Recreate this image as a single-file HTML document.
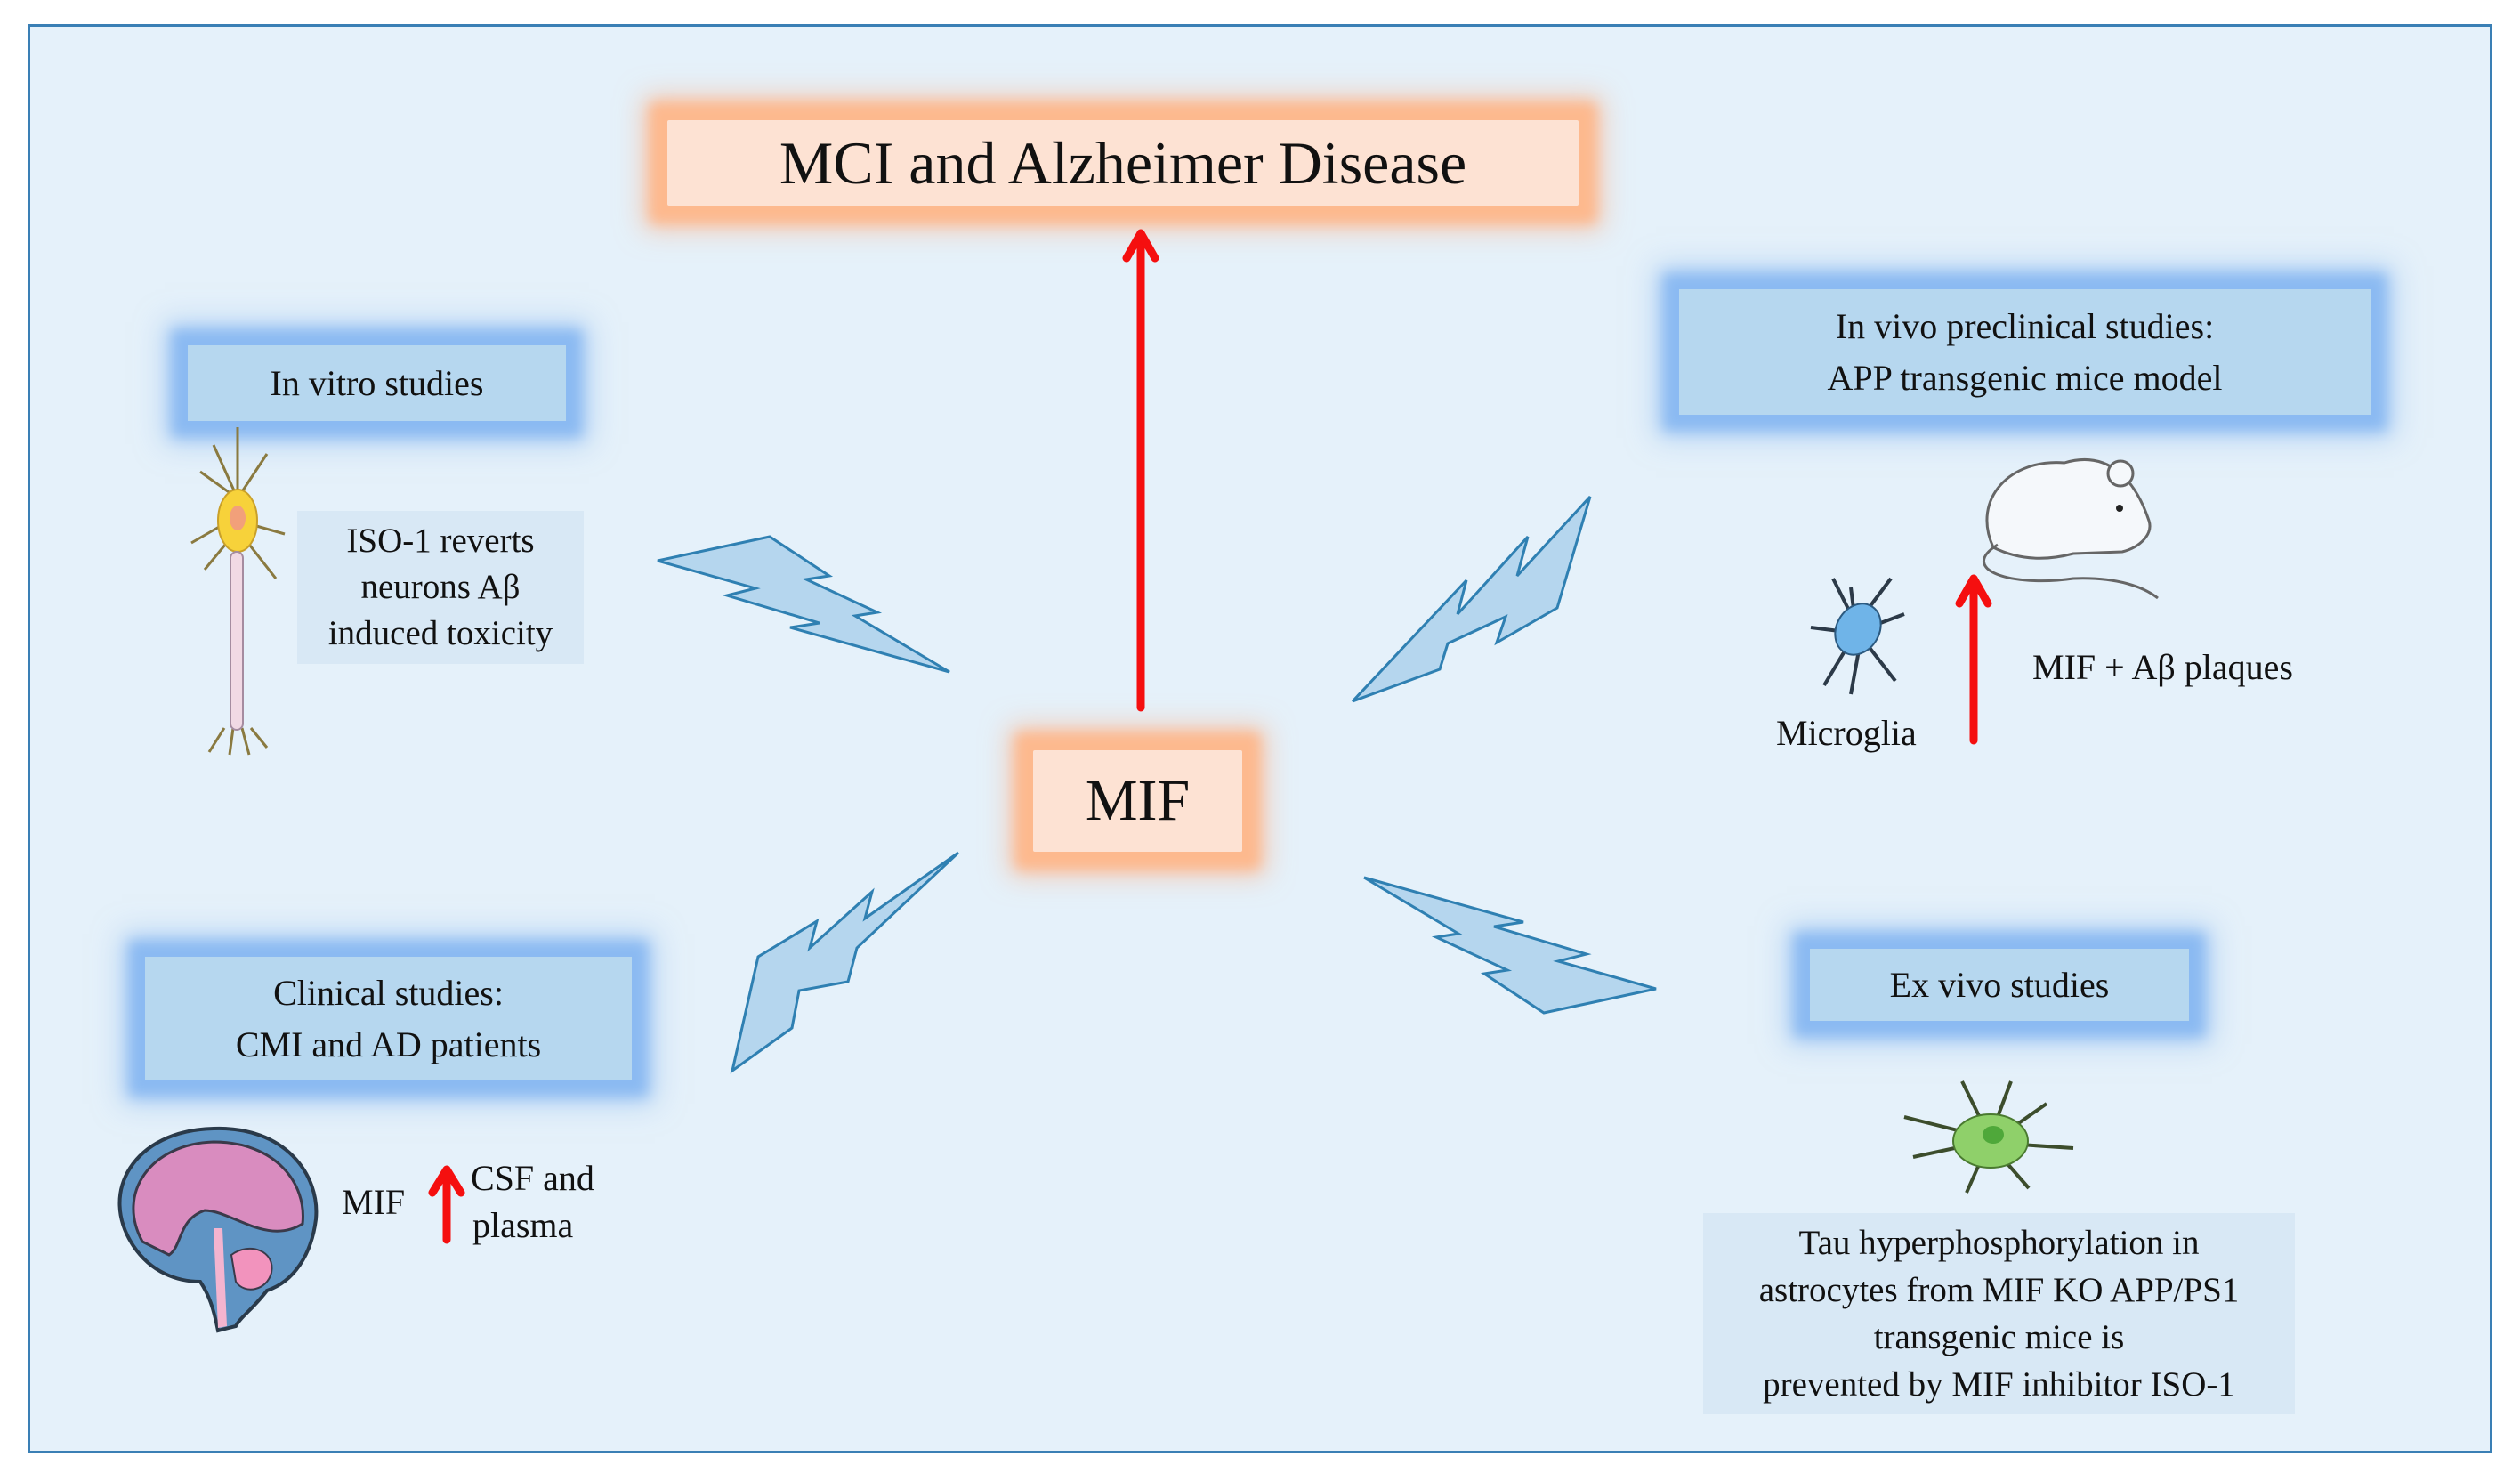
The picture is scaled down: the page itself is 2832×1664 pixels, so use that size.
<!DOCTYPE html>
<html><head><meta charset="utf-8"><style>
html,body{margin:0;padding:0;}
body{width:2832px;height:1664px;position:relative;background:#fff;overflow:hidden;font-family:"Liberation Serif",serif;color:#111;}
.frame{position:absolute;left:31px;top:27px;width:2764px;height:1600px;border:3px solid #3a7fb5;background:#e5f1fa;}
.box{position:absolute;display:flex;align-items:center;justify-content:center;text-align:center;}
.og{background:#fde2d3;box-shadow:0 0 14px 20px #fdb98e,0 0 30px 28px rgba(253,180,140,.6);border-radius:2px;}
.bg{background:#b6d7ef;box-shadow:0 0 14px 18px #8bbaf2,0 0 30px 26px rgba(130,180,240,.5);}
.pl{background:#d8e8f5;}
.t{position:absolute;white-space:nowrap;font-size:40px;}
</style></head><body>
<div class="frame"></div>

<div class="box og" style="left:750px;top:135px;width:1024px;height:96px;font-size:68px;">MCI and Alzheimer Disease</div>
<div class="box og" style="left:1161px;top:843px;width:235px;height:114px;font-size:66px;">MIF</div>
<div class="box bg" style="left:211px;top:388px;width:425px;height:85px;font-size:40px;">In vitro studies</div>
<div class="box pl" style="left:334px;top:574px;width:322px;height:172px;font-size:39px;line-height:52px;">ISO-1 reverts<br>neurons Aβ<br>induced toxicity</div>
<div class="box bg" style="left:1887px;top:325px;width:777px;height:141px;font-size:40px;line-height:58px;">In vivo preclinical studies:<br>APP transgenic mice model</div>
<div class="box bg" style="left:2034px;top:1066px;width:426px;height:81px;font-size:40px;">Ex vivo studies</div>
<div class="box pl" style="left:1914px;top:1363px;width:665px;height:226px;font-size:39px;line-height:53px;">Tau hyperphosphorylation in<br>astrocytes from MIF KO APP/PS1<br>transgenic mice is<br>prevented by MIF inhibitor ISO-1</div>
<div class="box bg" style="left:163px;top:1075px;width:547px;height:139px;font-size:40px;line-height:58px;">Clinical studies:<br>CMI and AD patients</div>

<div class="t" style="left:1996px;top:800px;">Microglia</div>
<div class="t" style="left:2284px;top:726px;">MIF + Aβ plaques</div>
<div class="t" style="left:384px;top:1327px;">MIF</div>
<div class="t" style="left:529px;top:1300px;">CSF and</div>
<div class="t" style="left:531px;top:1353px;">plasma</div>

<svg width="2832" height="1664" style="position:absolute;left:0;top:0" xmlns="http://www.w3.org/2000/svg">
<g fill="#b5d6ee" stroke="#2f80b2" stroke-width="3" stroke-linejoin="miter">
<polygon points="739,630 865,603 932,647 906,651 986,688 961,692 1067,755 888,705 921,700 817,669 849,661"/>
<polygon points="1520,788 1648,652 1638,690 1717,603 1705,647 1787,558 1750,683 1682,722 1692,693 1627,723 1618,752"/>
<polygon points="823,1203 852,1075 918,1035 910,1065 980,1002 972,1032 1077,958 963,1065 953,1103 898,1113 890,1155"/>
<polygon transform="translate(1697,1049) rotate(180) translate(-903,-692)" points="739,630 865,603 932,647 906,651 986,688 961,692 1067,755 888,705 921,700 817,669 849,661"/>
</g>
<g stroke="#f50f0f" stroke-width="9" fill="none" stroke-linecap="round" stroke-linejoin="round">
<line x1="1282" y1="795" x2="1282" y2="265"/><polyline points="1266,290 1282,262 1298,290"/>
<line x1="2218" y1="832" x2="2218" y2="652"/><polyline points="2202,678 2218,650 2234,678"/>
<line x1="502" y1="1393" x2="502" y2="1318"/><polyline points="486,1340 502,1314 518,1340"/>
</g>
<!-- neuron -->
<g stroke="#8a7a40" stroke-width="3" fill="none">
<line x1="267" y1="480" x2="267" y2="560"/><path d="M267 560 L225 530 M267 560 L240 500 M267 560 L300 510 M267 580 L215 610 M267 585 L320 600 M267 595 L230 640 M267 595 L310 650"/>
<path d="M252 818 L235 845 M262 818 L258 848 M272 818 L280 848 M282 818 L300 840"/>
</g>
<ellipse cx="267" cy="585" rx="22" ry="35" fill="#f7d23a" stroke="#c9a02a" stroke-width="2"/>
<ellipse cx="267" cy="582" rx="9" ry="14" fill="#f2a07a"/>
<rect x="259" y="620" width="14" height="200" rx="7" fill="#f1d9e4" stroke="#a58ca0" stroke-width="2"/>
<!-- mouse -->
<g stroke="#666" stroke-width="3" fill="#f5f8fb">
<path d="M2240 615 C2215 560 2260 515 2320 520 C2370 505 2400 540 2415 585 C2420 600 2405 615 2385 620 L2330 622 C2300 630 2270 630 2240 615 Z"/>
<path d="M2245 612 C2200 640 2260 660 2330 650 C2380 648 2410 660 2425 672" fill="none"/>
<circle cx="2383" cy="532" r="14"/>
</g>
<circle cx="2382" cy="571" r="4" fill="#222"/>
<!-- microglia -->
<g stroke="#2c3a48" stroke-width="4" fill="none">
<path d="M2085 700 L2060 650 M2085 700 L2080 660 M2095 690 L2125 650 M2100 705 L2140 690 M2095 720 L2130 765 M2080 720 L2050 770 M2075 710 L2035 705 M2090 725 L2080 780"/>
</g>
<ellipse cx="2088" cy="707" rx="24" ry="30" fill="#6fb4e8" stroke="#2c5a80" stroke-width="2" transform="rotate(30 2088 707)"/>
<!-- astrocyte -->
<g stroke="#3c4d2c" stroke-width="4" fill="none">
<path d="M2232 1270 L2205 1215 M2240 1268 L2260 1215 M2250 1275 L2300 1240 M2255 1285 L2330 1290 M2245 1295 L2280 1335 M2230 1295 L2210 1340 M2220 1285 L2150 1300 M2220 1275 L2140 1255"/>
</g>
<ellipse cx="2237" cy="1282" rx="42" ry="30" fill="#8fd06a" stroke="#4a7a30" stroke-width="2"/>
<ellipse cx="2240" cy="1275" rx="12" ry="10" fill="#4fa83a"/>
<!-- brain -->
<path d="M150 1400 C110 1340 150 1270 240 1268 C320 1265 360 1320 355 1370 C350 1410 330 1440 300 1450 C285 1470 270 1480 265 1490 L245 1495 C240 1470 235 1455 225 1440 C200 1440 170 1430 150 1400 Z" fill="#5f94c4" stroke="#2a3a4a" stroke-width="4"/>
<path d="M160 1395 C130 1340 170 1285 240 1283 C310 1283 345 1330 340 1375 C300 1400 260 1360 230 1360 C200 1370 205 1400 190 1410 Z" fill="#d98cbf" stroke="#3a3a4a" stroke-width="3"/>
<path d="M260 1410 C280 1395 310 1405 305 1430 C300 1450 275 1455 265 1440 Z" fill="#f293bd" stroke="#3a3a4a" stroke-width="2"/>
<path d="M240 1380 L250 1380 L255 1490 L245 1492 Z" fill="#f4b4cf"/>
</svg>
</body></html>
